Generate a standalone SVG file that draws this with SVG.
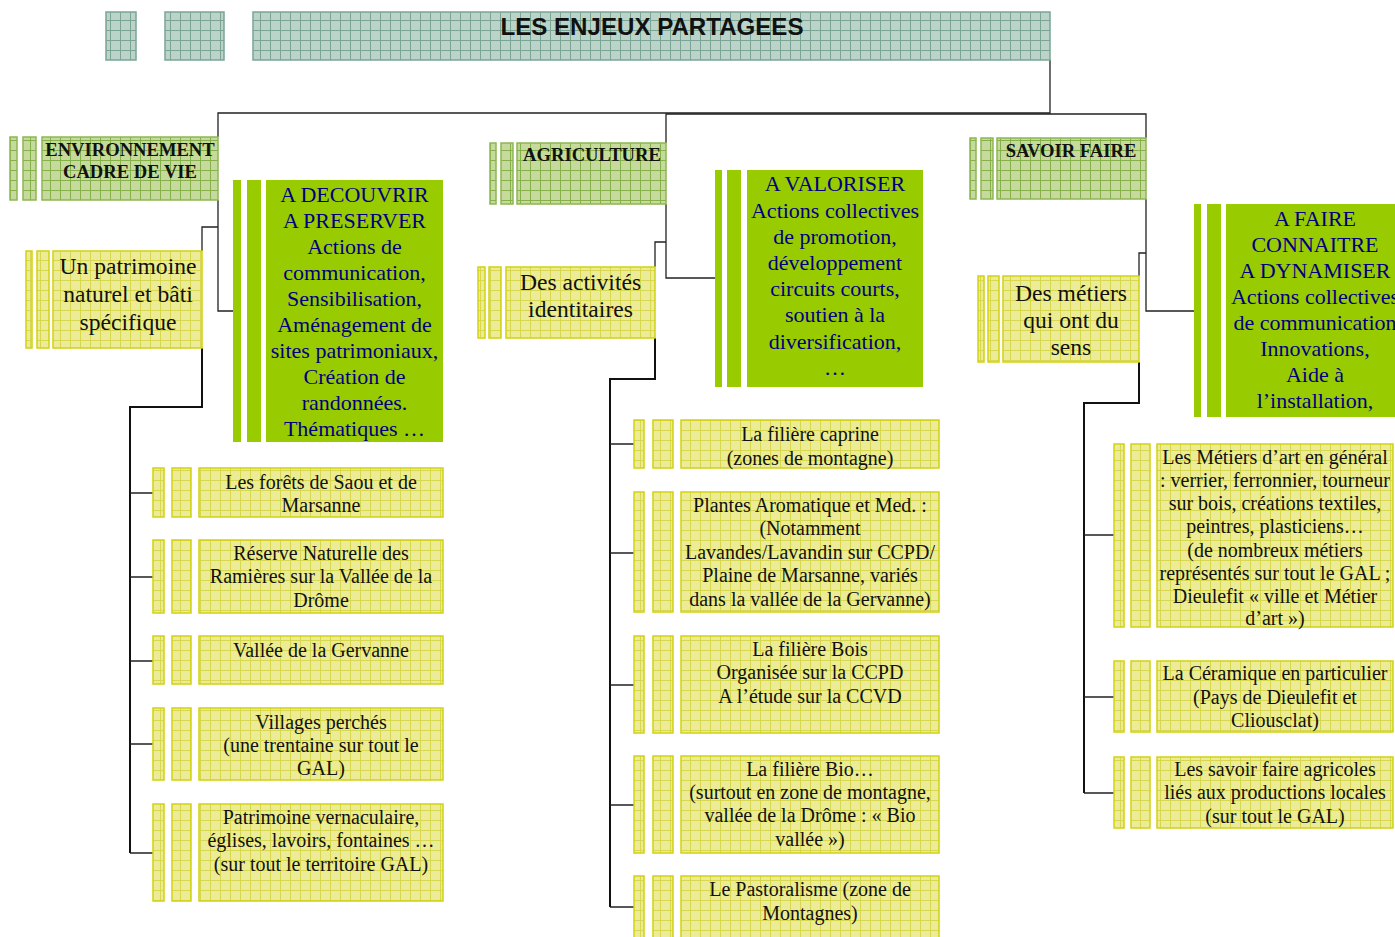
<svg xmlns="http://www.w3.org/2000/svg" width="1395" height="937" viewBox="0 0 1395 937">
<defs>
<pattern id="pTitle" patternUnits="userSpaceOnUse" width="10" height="10"><rect width="10" height="10" fill="#bcd3c9"/><path d="M0 0.5H10M0.5 0V10" stroke="#7aa595" stroke-width="1"/></pattern>
<pattern id="pHead" patternUnits="userSpaceOnUse" width="10" height="10"><rect width="10" height="10" fill="#c6da9e"/><path d="M0 0.5H10M0.5 0V10" stroke="#86b04a" stroke-width="1"/></pattern>
<pattern id="pYel" patternUnits="userSpaceOnUse" width="10" height="10"><rect width="10" height="10" fill="#ecec98"/><path d="M0 0.5H10M0.5 0V10" stroke="#d8d850" stroke-width="1"/></pattern>
</defs>
<style>
.t{fill:url(#pTitle);stroke:#7aa595;stroke-width:1.5}
.h{fill:url(#pHead);stroke:#8db650;stroke-width:1.5}
.y{fill:url(#pYel);stroke:#d2d210;stroke-width:1.5}
.g{fill:#99cc00}
.ttl{font-family:"Liberation Sans",Arial,sans-serif;font-weight:bold;font-size:23px;fill:#111;text-anchor:middle}
.ht{font-family:"Liberation Serif","Times New Roman",serif;font-weight:bold;font-size:18.6px;fill:#111;text-anchor:middle}
.sub{font-family:"Liberation Serif","Times New Roman",serif;font-size:23.6px;fill:#111;text-anchor:middle}
.act{font-family:"Liberation Serif","Times New Roman",serif;font-size:22px;fill:#000080;text-anchor:middle}
.it{font-family:"Liberation Serif","Times New Roman",serif;font-size:20px;fill:#111;text-anchor:middle}
.c{fill:none;stroke:#222;stroke-width:1.3}
.s{fill:none;stroke:#111;stroke-width:2}
</style>

<g id="connectors">
<path class="c" d="M1050 60V113H218V137"/>
<path class="c" d="M666 143V114H1146V138"/>
<path class="c" d="M218 200V311H233M218 227H202V251"/>
<path class="s" d="M202 348V407H130V853"/>
<path class="c" d="M130 493H153M130 577H153M130 661H153M130 744H153M130 853H153"/>
<path class="c" d="M666 204V278H715M666 242H655V267"/>
<path class="s" d="M655 338V379H610V907"/>
<path class="c" d="M610 444H634M610 553H634M610 685H634M610 805H634M610 907H634"/>
<path class="c" d="M1146 199V311H1194M1146 253H1139V276"/>
<path class="s" d="M1139 362V403H1084V793"/>
<path class="c" d="M1084 535H1114M1084 697H1114M1084 793H1114"/>
</g>

<g id="title">
<rect class="t" x="106" y="12" width="30" height="48"/>
<rect class="t" x="165" y="12" width="59" height="48"/>
<rect class="t" x="253" y="12" width="797" height="48"/>
<text class="ttl" x="652" y="35" textLength="303" lengthAdjust="spacingAndGlyphs">LES ENJEUX PARTAGEES</text>
</g>

<g id="env-header">
<rect class="h" x="10" y="137" width="7" height="63"/>
<rect class="h" x="23" y="137" width="13" height="63"/>
<rect class="h" x="42" y="137" width="176" height="63"/>
<text class="ht" x="130" y="156">ENVIRONNEMENT</text>
<text class="ht" x="130" y="178">CADRE DE VIE</text>
</g>

<g id="agri-header">
<rect class="h" x="490" y="143" width="6" height="61"/>
<rect class="h" x="501" y="143" width="12" height="61"/>
<rect class="h" x="517" y="143" width="149" height="61"/>
<text class="ht" x="592" y="161">AGRICULTURE</text>
</g>

<g id="savoir-header">
<rect class="h" x="970" y="138" width="6" height="61"/>
<rect class="h" x="981" y="138" width="12" height="61"/>
<rect class="h" x="997" y="138" width="149" height="61"/>
<text class="ht" x="1071" y="157">SAVOIR FAIRE</text>
</g>

<g id="env-sub">
<rect class="y" x="26" y="251" width="6" height="97"/>
<rect class="y" x="37" y="251" width="12" height="97"/>
<rect class="y" x="53" y="251" width="149" height="97"/>
<text class="sub" x="128" y="273.5">Un patrimoine</text>
<text class="sub" x="128" y="301.5">naturel et bâti</text>
<text class="sub" x="128" y="329.5">spécifique</text>
</g>

<g id="agri-sub">
<rect class="y" x="478" y="267" width="7" height="71"/>
<rect class="y" x="489" y="267" width="12" height="71"/>
<rect class="y" x="506" y="267" width="149" height="71"/>
<text class="sub" x="580.5" y="289.5">Des activités</text>
<text class="sub" x="580.5" y="316.5">identitaires</text>
</g>

<g id="savoir-sub">
<rect class="y" x="978" y="276" width="6" height="86"/>
<rect class="y" x="988" y="276" width="11" height="86"/>
<rect class="y" x="1003" y="276" width="136" height="86"/>
<text class="sub" x="1071" y="300.5">Des métiers</text>
<text class="sub" x="1071" y="327.5">qui ont du</text>
<text class="sub" x="1071" y="354.5">sens</text>
</g>

<g id="act-decouvrir">
<rect class="g" x="233" y="180" width="8" height="262"/>
<rect class="g" x="247" y="180" width="14" height="262"/>
<rect class="g" x="266" y="180" width="177" height="262"/>
<text class="act" x="354.5" y="202.3">A DECOUVRIR</text>
<text class="act" x="354.5" y="228.3">A PRESERVER</text>
<text class="act" x="354.5" y="254.3">Actions de</text>
<text class="act" x="354.5" y="280.3">communication,</text>
<text class="act" x="354.5" y="306.3">Sensibilisation,</text>
<text class="act" x="354.5" y="332.3">Aménagement de</text>
<text class="act" x="354.5" y="358.3">sites patrimoniaux,</text>
<text class="act" x="354.5" y="384.3">Création de</text>
<text class="act" x="354.5" y="410.3">randonnées.</text>
<text class="act" x="354.5" y="436.3">Thématiques …</text>
</g>

<g id="act-valoriser">
<rect class="g" x="715" y="170" width="7" height="217"/>
<rect class="g" x="727" y="170" width="14" height="217"/>
<rect class="g" x="747" y="170" width="176" height="217"/>
<text class="act" x="835" y="191.3">A VALORISER</text>
<text class="act" x="835" y="217.5">Actions collectives</text>
<text class="act" x="835" y="243.7">de promotion,</text>
<text class="act" x="835" y="269.9">développement</text>
<text class="act" x="835" y="296.1">circuits courts,</text>
<text class="act" x="835" y="322.3">soutien à la</text>
<text class="act" x="835" y="348.5">diversification,</text>
<text class="act" x="835" y="374.7">…</text>
</g>

<g id="act-faire">
<rect class="g" x="1194" y="204" width="7" height="213"/>
<rect class="g" x="1207" y="204" width="14" height="213"/>
<rect class="g" x="1226" y="204" width="180" height="213"/>
<text class="act" x="1315" y="226.3">A FAIRE</text>
<text class="act" x="1315" y="252.3">CONNAITRE</text>
<text class="act" x="1315" y="278.3">A DYNAMISER</text>
<text class="act" x="1315" y="304.3">Actions collectives</text>
<text class="act" x="1315" y="330.3">de communication</text>
<text class="act" x="1315" y="356.3">Innovations,</text>
<text class="act" x="1315" y="382.3">Aide à</text>
<text class="act" x="1315" y="408.3">l’installation,</text>
</g>

<g id="env-item-1">
<rect class="y" x="153" y="468" width="11" height="49"/>
<rect class="y" x="172" y="468" width="19" height="49"/>
<rect class="y" x="199" y="468" width="244" height="49"/>
<text class="it" x="321" y="488.6">Les forêts de Saou et de</text>
<text class="it" x="321" y="511.6">Marsanne</text>
</g>
<g id="env-item-2">
<rect class="y" x="153" y="540" width="11" height="73"/>
<rect class="y" x="172" y="540" width="19" height="73"/>
<rect class="y" x="199" y="540" width="244" height="73"/>
<text class="it" x="321" y="559.6">Réserve Naturelle des</text>
<text class="it" x="321" y="583.1">Ramières sur la Vallée de la</text>
<text class="it" x="321" y="606.6">Drôme</text>
</g>
<g id="env-item-3">
<rect class="y" x="153" y="636" width="11" height="48"/>
<rect class="y" x="172" y="636" width="19" height="48"/>
<rect class="y" x="199" y="636" width="244" height="48"/>
<text class="it" x="321" y="656.6">Vallée de la Gervanne</text>
</g>
<g id="env-item-4">
<rect class="y" x="153" y="708" width="11" height="72"/>
<rect class="y" x="172" y="708" width="19" height="72"/>
<rect class="y" x="199" y="708" width="244" height="72"/>
<text class="it" x="321" y="728.6">Villages perchés</text>
<text class="it" x="321" y="751.6">(une trentaine sur tout le</text>
<text class="it" x="321" y="774.6">GAL)</text>
</g>
<g id="env-item-5">
<rect class="y" x="153" y="804" width="11" height="97"/>
<rect class="y" x="172" y="804" width="19" height="97"/>
<rect class="y" x="199" y="804" width="244" height="97"/>
<text class="it" x="321" y="823.6">Patrimoine vernaculaire,</text>
<text class="it" x="321" y="847.1">églises, lavoirs, fontaines …</text>
<text class="it" x="321" y="870.6">(sur tout le territoire GAL)</text>
</g>

<g id="agri-item-1">
<rect class="y" x="634" y="420" width="10" height="48"/>
<rect class="y" x="653" y="420" width="20" height="48"/>
<rect class="y" x="681" y="420" width="258" height="48"/>
<text class="it" x="810" y="440.6">La filière caprine</text>
<text class="it" x="810" y="464.6">(zones de montagne)</text>
</g>
<g id="agri-item-2">
<rect class="y" x="634" y="492" width="10" height="120"/>
<rect class="y" x="653" y="492" width="20" height="120"/>
<rect class="y" x="681" y="492" width="258" height="120"/>
<text class="it" x="810" y="511.6">Plantes Aromatique et Med. :</text>
<text class="it" x="810" y="535.1">(Notamment</text>
<text class="it" x="810" y="558.6">Lavandes/Lavandin sur CCPD/</text>
<text class="it" x="810" y="582.1">Plaine de Marsanne, variés</text>
<text class="it" x="810" y="605.6">dans la vallée de la Gervanne)</text>
</g>
<g id="agri-item-3">
<rect class="y" x="634" y="636" width="10" height="97"/>
<rect class="y" x="653" y="636" width="20" height="97"/>
<rect class="y" x="681" y="636" width="258" height="97"/>
<text class="it" x="810" y="655.6">La filière Bois</text>
<text class="it" x="810" y="678.6">Organisée sur la CCPD</text>
<text class="it" x="810" y="702.6">A l’étude sur la CCVD</text>
</g>
<g id="agri-item-4">
<rect class="y" x="634" y="756" width="10" height="97"/>
<rect class="y" x="653" y="756" width="20" height="97"/>
<rect class="y" x="681" y="756" width="258" height="97"/>
<text class="it" x="810" y="775.6">La filière Bio…</text>
<text class="it" x="810" y="798.6">(surtout en zone de montagne,</text>
<text class="it" x="810" y="821.6">vallée de la Drôme : « Bio</text>
<text class="it" x="810" y="845.6">vallée »)</text>
</g>
<g id="agri-item-5">
<rect class="y" x="634" y="876" width="10" height="66"/>
<rect class="y" x="653" y="876" width="20" height="66"/>
<rect class="y" x="681" y="876" width="258" height="66"/>
<text class="it" x="810" y="895.6">Le Pastoralisme (zone de</text>
<text class="it" x="810" y="919.6">Montagnes)</text>
</g>

<g id="savoir-item-1">
<rect class="y" x="1114" y="444" width="10" height="183"/>
<rect class="y" x="1131" y="444" width="19" height="183"/>
<rect class="y" x="1157" y="444" width="236" height="183"/>
<text class="it" x="1275" y="463.6">Les Métiers d’art en général</text>
<text class="it" x="1275" y="486.6">: verrier, ferronnier, tourneur</text>
<text class="it" x="1275" y="509.6">sur bois, créations textiles,</text>
<text class="it" x="1275" y="533.1">peintres, plasticiens…</text>
<text class="it" x="1275" y="556.6">(de nombreux métiers</text>
<text class="it" x="1275" y="579.6">représentés sur tout le GAL ;</text>
<text class="it" x="1275" y="602.6">Dieulefit « ville et Métier</text>
<text class="it" x="1275" y="624.6">d’art »)</text>
</g>
<g id="savoir-item-2">
<rect class="y" x="1114" y="661" width="10" height="71"/>
<rect class="y" x="1131" y="661" width="19" height="71"/>
<rect class="y" x="1157" y="661" width="236" height="71"/>
<text class="it" x="1275" y="679.6">La Céramique en particulier</text>
<text class="it" x="1275" y="703.6">(Pays de Dieulefit et</text>
<text class="it" x="1275" y="726.6">Cliousclat)</text>
</g>
<g id="savoir-item-3">
<rect class="y" x="1114" y="757" width="10" height="71"/>
<rect class="y" x="1131" y="757" width="19" height="71"/>
<rect class="y" x="1157" y="757" width="236" height="71"/>
<text class="it" x="1275" y="775.6">Les savoir faire agricoles</text>
<text class="it" x="1275" y="798.6">liés aux productions locales</text>
<text class="it" x="1275" y="822.6">(sur tout le GAL)</text>
</g>
</svg>
